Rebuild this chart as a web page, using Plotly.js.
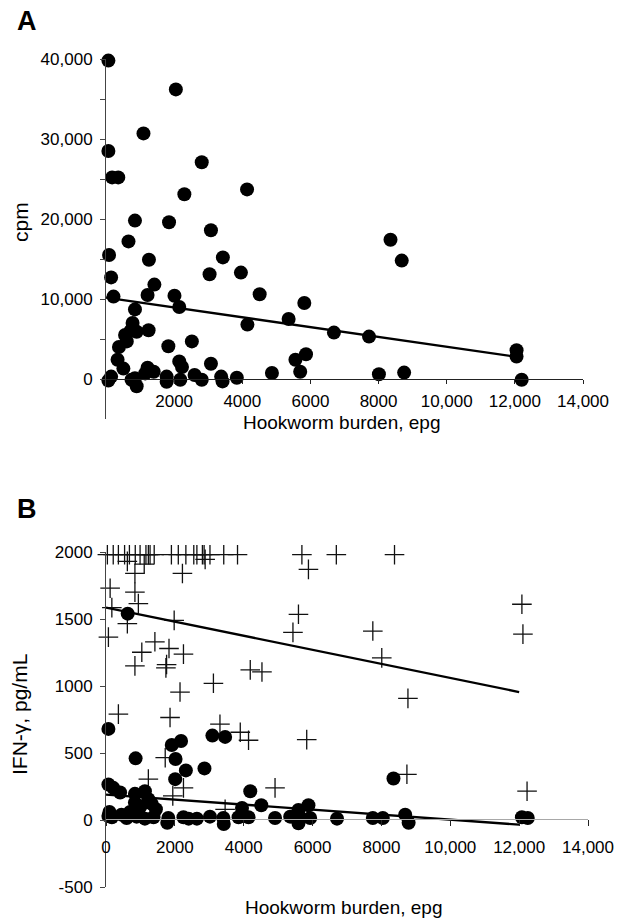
<!DOCTYPE html>
<html><head><meta charset="utf-8">
<script src="https://cdn.plot.ly/plotly-3.0.1.min.js"></script>
<style>html,body{margin:0;padding:0;background:#fff}#chart{width:625px;height:918px}</style>
</head><body><div id="chart"></div>
<script>
// ---------- Panel A: proliferation (cpm) vs hookworm burden ----------
const aX = [70,2050,1100,70,180,360,2810,4140,2300,850,1850,3080,660,90,1260,3430,3040,3960,150,1420,
  1220,2010,220,4510,5820,2150,850,780,720,900,1250,560,610,380,1830,2520,340,510,5360,4150,
  70,150,750,850,900,1150,1220,1400,1780,1780,2150,2230,2180,2600,2810,3080,3380,3420,3840,4870,
  5560,5870,5700,8010,8750,12200,8350,8680,6690,7720,12050,12050];
const aY = [39800,36200,30700,28500,25200,25200,27100,23700,23100,19800,19600,18600,17200,15500,14900,15200,13100,13300,12700,11800,
  10500,10400,10300,10600,9500,9000,8700,7000,6000,5900,6100,5500,4700,4000,4100,4700,2400,1300,7500,6800,
  -200,300,-100,100,-900,700,1400,900,300,-350,2200,1500,-100,500,-100,1900,300,-300,150,750,
  2400,3100,900,600,800,-100,17400,14800,5800,5300,3600,2800];
const aFitX = [0, 12000];
const aFitY = [10170, 2800];
const aXTicks = [2000,4000,6000,8000,10000,12000,14000];
const aXTickText = ['2000','4000','6000','8000','10,000','12,000','14,000'];
const aYTicks = [0,5000,10000,15000,20000,25000,30000,35000,40000];
const aYTickText = ['0','','10,000','','20,000','','30,000','','40,000'];

// ---------- Panel B: IFN-gamma vs hookworm burden ----------
const bCrossX = [40,210,360,540,680,850,990,1160,1230,1280,1400,1900,2100,2320,2550,2640,2800,2850,3020,3420,3820,5690,6690,8380,
  620,1110,2880,840,2220,5880,120,840,940,170,620,1980,5590,5430,70,1420,1040,1830,2250,840,1760,1740,4190,4530,3120,2150,
  360,1860,3310,3900,4140,5830,1720,1230,2250,1940,4910,3460,12080,12110,7750,8010,8770,8740,12230];
const bCrossY = [1980,1980,1980,1980,1980,1980,1980,1980,1980,1980,1980,1980,1980,1980,1980,1980,1980,1980,1980,1980,1980,1980,1980,1980,
  1930,1910,1945,1840,1840,1870,1730,1700,1615,1585,1465,1490,1535,1400,1365,1330,1252,1280,1238,1150,1160,1135,1120,1105,1020,955,
  790,765,715,655,595,600,465,305,240,180,240,80,1610,1387,1410,1210,908,341,215];
const bDotX = [70,630,860,1910,2180,2020,3090,3460,2320,2860,2010,70,210,410,840,1130,1230,840,1330,4190,4510,3950,5880,5590,8350,8690,
  170,600,890,1130,1380,1810,2250,2640,3020,3410,3850,4140,4910,5350,5590,5930,6710,7750,8040,8790,12080,12250,
  70,100,450,700,1000,1450,1780,3420,5590,2400];
const bDotY = [680,1540,460,560,590,455,630,620,370,385,305,265,240,205,195,215,155,130,120,215,110,90,110,75,310,40,
  20,15,25,10,20,15,20,10,25,15,20,20,15,25,-25,15,10,15,15,-20,20,15,
  30,60,40,60,100,80,-20,-30,40,10];
const bFitHighX = [0, 12000];
const bFitHighY = [1585, 955];
const bFitLowX = [0, 12000];
const bFitLowY = [190, -35];
const bXTicks = [0,2000,4000,6000,8000,10000,12000,14000];
const bXTickText = ['0','2000','4000','6000','8000','10,000','12,000','14,000'];
const bYTicks = [-500,0,500,1000,1500,2000];
const bYTickText = ['-500','0','500','1000','1500','2000'];

// ---------- layout helpers (pixel -> paper) ----------
const W = 625, H = 918;
const px = p => p / W;
const py = p => 1 - p / H;
const FONT = 'Liberation Sans, Arial, Helvetica, sans-serif';

const dot = {symbol:'circle', size:14, color:'#000', line:{width:0}};
const cross = {symbol:'cross-thin-open', size:14, color:'#111', line:{width:1.3, color:'#111'}};
const fitLine = {color:'#000', width:2.3};

const traces = [
  {x:aX, y:aY, type:'scatter', mode:'markers', marker:dot, xaxis:'x', yaxis:'y', cliponaxis:false},
  {x:aFitX, y:aFitY, type:'scatter', mode:'lines', line:fitLine, xaxis:'x', yaxis:'y', cliponaxis:false},
  {x:bCrossX, y:bCrossY, type:'scatter', mode:'markers', marker:cross, xaxis:'x2', yaxis:'y2', cliponaxis:false},
  {x:bDotX, y:bDotY, type:'scatter', mode:'markers', marker:dot, xaxis:'x2', yaxis:'y2', cliponaxis:false},
  {x:bFitHighX, y:bFitHighY, type:'scatter', mode:'lines', line:fitLine, xaxis:'x2', yaxis:'y2', cliponaxis:false},
  {x:bFitLowX, y:bFitLowY, type:'scatter', mode:'lines', line:fitLine, xaxis:'x2', yaxis:'y2', cliponaxis:false}
];

const tickFont = {family:FONT, size:17, color:'#000'};
const axBase = {showgrid:false, zeroline:false, showline:true, linewidth:1, ticks:'outside', tickwidth:1, tickfont:tickFont, fixedrange:true};

const layout = {
  width:W, height:H, showlegend:false,
  paper_bgcolor:'#fff', plot_bgcolor:'rgba(0,0,0,0)',
  margin:{l:0, r:0, t:0, b:0},
  font:{family:FONT, color:'#000'},
  xaxis: Object.assign({}, axBase, {domain:[px(106), px(583)], range:[0,14000], anchor:'free', position:py(379),
    tickmode:'array', tickvals:aXTicks, ticktext:aXTickText, ticklen:4, linecolor:'#222', tickcolor:'#222', ticklabelstandoff:3}),
  yaxis: Object.assign({}, axBase, {domain:[py(419), py(59)], range:[-5000,40000], anchor:'x',
    tickmode:'array', tickvals:aYTicks, ticktext:aYTickText, ticklen:5, linecolor:'#444', tickcolor:'#444', ticklabelstandoff:4}),
  xaxis2: Object.assign({}, axBase, {domain:[px(106), px(588)], range:[0,14000], anchor:'free', position:py(819),
    tickmode:'array', tickvals:bXTicks, ticktext:bXTickText, ticklen:6, linecolor:'#a8a8a8', tickcolor:'#222', ticklabelstandoff:7}),
  yaxis2: Object.assign({}, axBase, {domain:[py(887), py(552)], range:[-500,2000], anchor:'x2',
    tickmode:'array', tickvals:bYTicks, ticktext:bYTickText, ticklen:5, linecolor:'#444', tickcolor:'#444', ticklabelstandoff:4}),
  annotations: [
    {text:'<b>A</b>', x:px(27), y:py(21), xref:'paper', yref:'paper', showarrow:false, xanchor:'center', yanchor:'middle', font:{family:FONT, size:27}},
    {text:'<b>B</b>', x:px(27), y:py(509), xref:'paper', yref:'paper', showarrow:false, xanchor:'center', yanchor:'middle', font:{family:FONT, size:27}},
    {text:'cpm', x:px(20), y:py(222), xref:'paper', yref:'paper', showarrow:false, textangle:-90, xanchor:'center', yanchor:'middle', font:{family:FONT, size:21}},
    {text:'Hookworm burden, epg', x:px(342), y:py(422), xref:'paper', yref:'paper', showarrow:false, xanchor:'center', yanchor:'middle', font:{family:FONT, size:19}},
    {text:'IFN-γ, pg/mL', x:px(19), y:py(715), xref:'paper', yref:'paper', showarrow:false, textangle:-90, xanchor:'center', yanchor:'middle', font:{family:FONT, size:21}},
    {text:'Hookworm burden, epg', x:px(344), y:py(907), xref:'paper', yref:'paper', showarrow:false, xanchor:'center', yanchor:'middle', font:{family:FONT, size:19}}
  ]
};

Plotly.newPlot('chart', traces, layout, {staticPlot:true, displayModeBar:false});
</script>
</body></html>
